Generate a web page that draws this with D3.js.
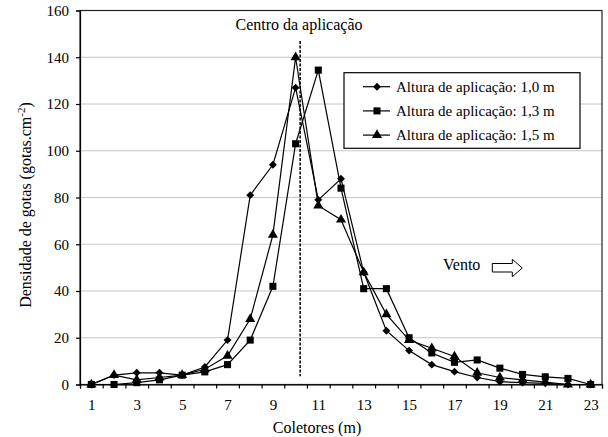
<!DOCTYPE html>
<html lang="pt">
<head>
    <meta charset="UTF-8">
    <title>Densidade de gotas</title>
    <script src="https://d3js.org/d3.v7.min.js"></script>
    <style>
        body { margin: 0; background: #fff; }
        svg { display: block; }
        svg text { font-family: "Liberation Serif", Tinos, "Noto Serif", "DejaVu Serif", FreeSerif, "Times New Roman", Times, serif; }
    </style>
</head>
<body>
    <div id="chart"></div>
    <script>
        // coletores (m)
        const coletores = [1, 2, 3, 4, 5, 6, 7, 8, 9, 10, 11, 12, 13, 14, 15, 16, 17, 18, 19, 20, 21, 22, 23];
        const altura10 = [0, 4, 5, 5, 4, 7.5, 19, 81, 94, 127, 79, 88, 48, 23, 14.5, 8.5, 5.5, 3, 1.2, 0.8, 0.5, 0, 0];
        const altura13 = [0, 0, 0.8, 2, 4, 5.4, 8.5, 19, 42, 103, 134.5, 84, 41, 41, 20, 13.5, 9.5, 10.5, 7, 4.3, 3.3, 2.6, 0];
        const altura15 = [0, 4, 2, 3, 4, 6.5, 12.3, 28, 64, 140, 76.5, 70.5, 48, 30, 19, 15.5, 12, 5, 3, 2, 1, 0, 0];
        const yTicks = [0, 20, 40, 60, 80, 100, 120, 140, 160];
        const xLabels = [1, 3, 5, 7, 9, 11, 13, 15, 17, 19, 21, 23];
        const legendLabels = ["Altura de aplicação: 1,0 m", "Altura de aplicação: 1,3 m", "Altura de aplicação: 1,5 m"];
        // linha do centro da aplicação (coletor, densidade)
        const centro = { x: 10.2, y0: 3.5, y1: 147 };

        const width = 608, height = 437;
        const plotLeft = 80, plotRight = 602, plotTop = 10.5, plotBottom = 384.5;

        const svg = d3.select("#chart").append("svg").attr("width", width).attr("height", height);

        const x = d3.scaleLinear().domain([0.5, 23.5]).range([plotLeft, plotRight]);
        const y = d3.scaleLinear().domain([0, 160]).range([plotBottom, plotTop]);

        // grid
        svg.append("g").selectAll("line").data(yTicks.slice(1, -1)).enter().append("line")
            .attr("x1", plotLeft).attr("x2", plotRight)
            .attr("y1", d => y(d)).attr("y2", d => y(d))
            .attr("stroke", "#c6c6c6").attr("stroke-width", 1);

        // plot border
        svg.append("rect").attr("x", plotLeft).attr("y", plotTop)
            .attr("width", plotRight - plotLeft).attr("height", plotBottom - plotTop)
            .attr("fill", "none").attr("stroke", "#222").attr("stroke-width", 1.2);

        // axes
        const yAxis = svg.append("g").attr("transform", `translate(${plotLeft},0)`)
            .call(d3.axisLeft(y).tickValues(yTicks).tickSize(4).tickPadding(7));
        const xTickAxis = svg.append("g").attr("transform", `translate(0,${plotBottom})`)
            .call(d3.axisBottom(x).tickValues(d3.range(0.5, 24, 1)).tickSize(4).tickFormat(""));
        const xLabelAxis = svg.append("g").attr("transform", `translate(0,${plotBottom})`)
            .call(d3.axisBottom(x).tickValues(xLabels).tickSize(0).tickPadding(15).tickFormat(d3.format("d")));
        xLabelAxis.select(".domain").remove();
        [yAxis, xTickAxis, xLabelAxis].forEach(g => {
            g.selectAll("text").attr("font-size", 15).attr("fill", "#000");
            g.selectAll("line, path").attr("stroke", "#000").attr("stroke-width", 1.2);
        });

        // centro da aplicação
        svg.append("line")
            .attr("x1", x(centro.x)).attr("x2", x(centro.x))
            .attr("y1", y(centro.y1)).attr("y2", y(centro.y0))
            .attr("stroke", "#000").attr("stroke-width", 1.5).attr("stroke-dasharray", "3,1.5");
        svg.append("text").attr("x", 299).attr("y", 30).attr("text-anchor", "middle")
            .attr("font-size", 16).text("Centro da aplicação");

        // series
        const series = [
            { values: altura10, marker: d3.symbolDiamond2, size: 40 },
            { values: altura13, marker: d3.symbolSquare, size: 50 },
            { values: altura15, marker: d3.symbolTriangle, size: 44 }
        ];
        const line = d3.line().x((d, i) => x(coletores[i])).y(d => y(d));

        series.forEach(s => {
            svg.append("path").datum(s.values)
                .attr("d", line).attr("fill", "none").attr("stroke", "#000").attr("stroke-width", 1.2);
        });
        series.forEach(s => {
            svg.append("g").selectAll("path").data(s.values).enter().append("path")
                .attr("transform", (d, i) => `translate(${x(coletores[i])},${y(d)})`)
                .attr("d", d3.symbol().type(s.marker).size(s.size))
                .attr("fill", "#000");
        });

        // legend
        const legend = svg.append("g");
        legend.append("rect").attr("x", 344).attr("y", 72.7).attr("width", 236).attr("height", 75.6)
            .attr("fill", "#fff").attr("stroke", "#000").attr("stroke-width", 1.2);
        legendLabels.forEach((lab, i) => {
            const ly = 86.7 + i * 24.2;
            legend.append("line").attr("x1", 363).attr("x2", 390).attr("y1", ly).attr("y2", ly)
                .attr("stroke", "#000").attr("stroke-width", 1.2);
            legend.append("path").attr("transform", `translate(377,${ly})`)
                .attr("d", d3.symbol().type(series[i].marker).size(series[i].size)).attr("fill", "#000");
            legend.append("text").attr("x", 396).attr("y", ly + 5).attr("font-size", 15).text(lab);
        });

        // vento
        svg.append("text").attr("x", 443).attr("y", 270).attr("font-size", 16).text("Vento");
        svg.append("path")
            .attr("d", "M492.3,263.5 L512.3,263.5 L512.3,259.3 L522.3,268 L512.3,276.7 L512.3,272 L492.3,272 Z")
            .attr("fill", "#fff").attr("stroke", "#000").attr("stroke-width", 1);

        // axis titles
        svg.append("text").attr("x", 317).attr("y", 433).attr("text-anchor", "middle")
            .attr("font-size", 16).text("Coletores (m)");
        const yTitle = svg.append("text")
            .attr("transform", "translate(31,205) rotate(-90)")
            .attr("text-anchor", "middle").attr("font-size", 16);
        yTitle.append("tspan").text("Densidade de gotas (gotas.cm");
        yTitle.append("tspan").attr("font-size", 11).attr("dy", -6).text("-2");
        yTitle.append("tspan").attr("dy", 6).text(")");
    </script>
</body>
</html>
